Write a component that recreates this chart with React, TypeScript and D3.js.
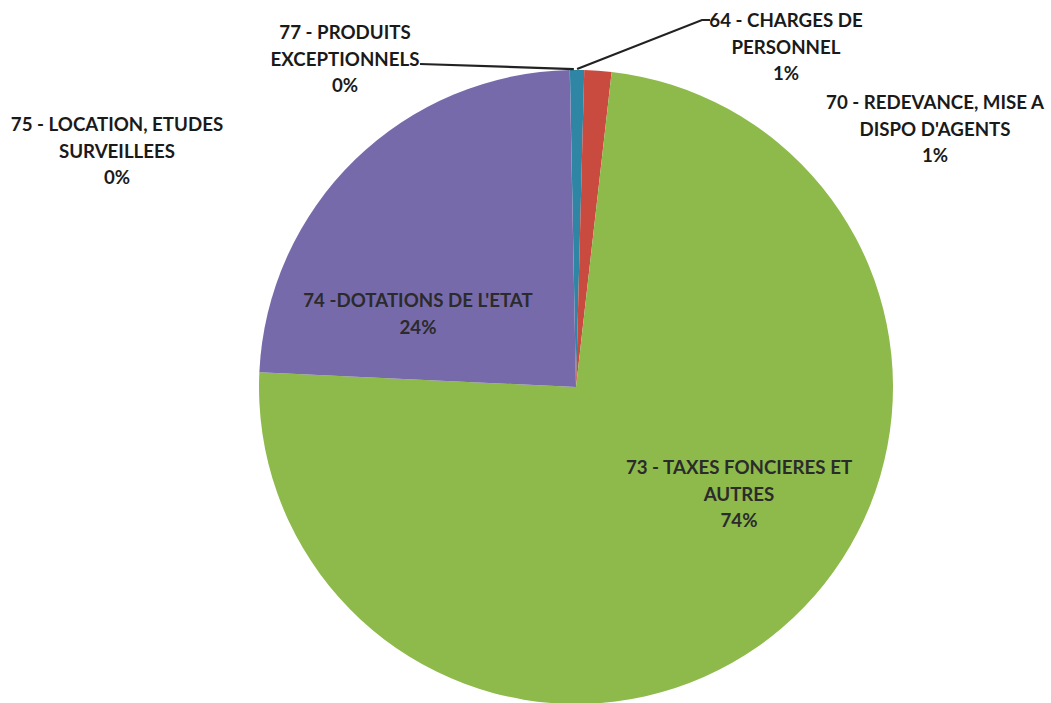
import * as d3 from 'd3'

// slice order as drawn clockwise from the top
const categories = [
  '64 - CHARGES DE PERSONNEL',
  '70 - REDEVANCE, MISE A DISPO D\'AGENTS',
  '73 - TAXES FONCIERES ET AUTRES',
  '74 -DOTATIONS DE L\'ETAT',
  '75 - LOCATION, ETUDES SURVEILLEES',
  '77 - PRODUITS EXCEPTIONNELS',
]
const values = [0.72, 1.38, 73.95, 23.94, 0.005, 0.005]
const percentLabels = ['1%', '1%', '74%', '24%', '0%', '0%']
const labelLines = [
  ['64 - CHARGES DE', 'PERSONNEL', percentLabels[0]],
  ['70 - REDEVANCE, MISE A', "DISPO D'AGENTS", percentLabels[1]],
  ['73 - TAXES FONCIERES ET', 'AUTRES', percentLabels[2]],
  ["74 -DOTATIONS DE L'ETAT", percentLabels[3]],
  ['75 - LOCATION, ETUDES', 'SURVEILLEES', percentLabels[4]],
  ['77 - PRODUITS', 'EXCEPTIONNELS', percentLabels[5]],
]
const colors = ['#2f86a4', '#c94a3f', '#8dba4b', '#776aab', '#776aab', '#776aab']

const width = 1051
const height = 703
const cx = 576
const cy = 387
const radius = 317
const rotation = (-1.1 * Math.PI) / 180

// label anchor (centre x, first baseline y) per slice
const labelPos: [number, number][] = [
  [786, 27],
  [935, 109],
  [739, 474],
  [418, 307],
  [117, 131],
  [345, 39],
]
const lineStep = 26.5

type Slice = { c: string; v: number; i: number }

const App = () => {
  const data: Slice[] = categories.map((c, i) => ({ c, v: values[i], i }))
  const pie = d3
    .pie<Slice>()
    .value(d => d.v)
    .sort(null)
    .startAngle(rotation)
    .endAngle(rotation + 2 * Math.PI)
  const arcs = pie(data)
  const arcGen = d3.arc<d3.PieArcDatum<Slice>>().innerRadius(0).outerRadius(radius)
  const edge = d3.arc<d3.PieArcDatum<Slice>>().innerRadius(radius).outerRadius(radius)

  const edgePoint = (i: number) => {
    const [x, y] = edge.centroid(arcs[i])
    return [cx + x, cy + y]
  }
  const p64 = edgePoint(0)
  const p77 = edgePoint(5)

  return (
    <svg
      width={width}
      height={height}
      style={{ position: 'absolute', left: 0, top: 0, background: '#fff' }}
      fontFamily="Lato, 'Open Sans', sans-serif"
      fontWeight={700}
    >
      <rect width={width} height={height} fill="#fff" />
      <g transform={`translate(${cx},${cy})`}>
        {arcs.map((a, i) => (
          <path key={i} d={arcGen(a) ?? ''} fill={colors[i]} />
        ))}
      </g>
      <polyline
        points={`${p77[0] + 4},${p77[1] - 1} 420,64`}
        fill="none"
        stroke="#222"
        strokeWidth={2.2}
      />
      <polyline
        points={`${p64[0]},${p64[1] - 1} 702,20 710,20`}
        fill="none"
        stroke="#222"
        strokeWidth={2.2}
      />
      {labelLines.map((lines, i) => (
        <text
          key={i}
          textAnchor="middle"
          fontSize={18.7}
          fill={i === 2 || i === 3 ? '#2b2b2b' : '#1a1a1a'}
        >
          {lines.map((l, j) => (
            <tspan key={j} x={labelPos[i][0]} y={labelPos[i][1] + j * lineStep}>
              {l}
            </tspan>
          ))}
        </text>
      ))}
    </svg>
  )
}

export default App
